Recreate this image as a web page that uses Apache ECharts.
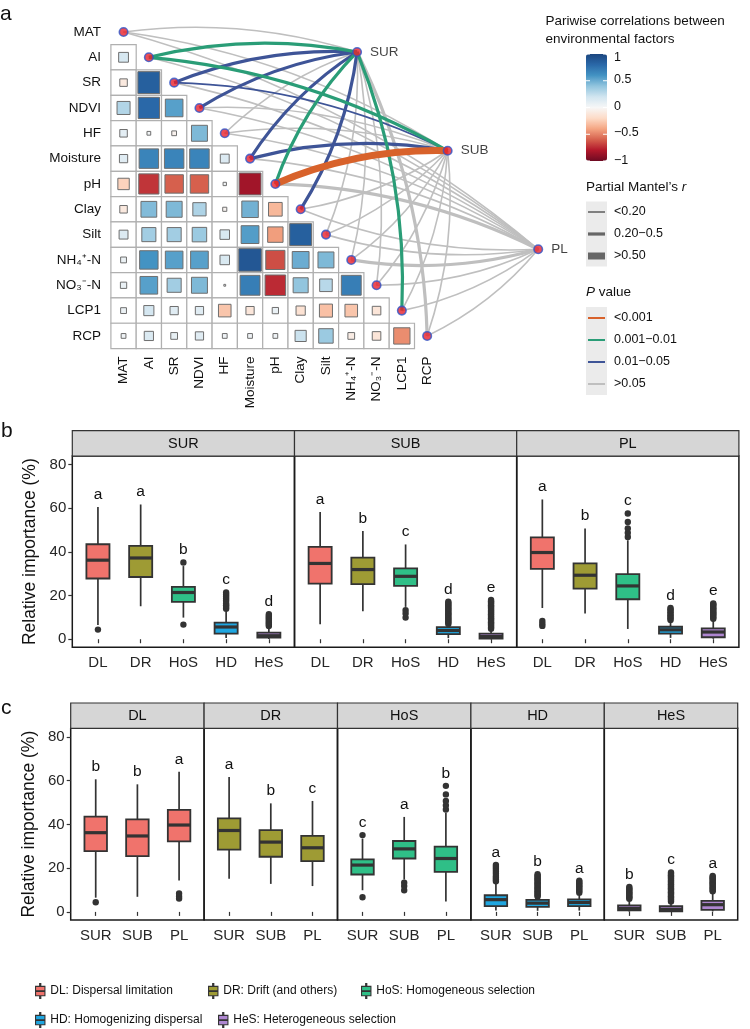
<!DOCTYPE html>
<html><head><meta charset="utf-8">
<script src="https://cdn.jsdelivr.net/npm/echarts@6/dist/echarts.min.js"></script>
<style>html,body{margin:0;padding:0;background:#fff}#c{width:750px;height:1029px}</style>
</head><body><div id="c"></div>
<script>
// ---------------- DATA ----------------
const envFactors = ['MAT','AI','SR','NDVI','HF','Moisture','pH','Clay','Silt','NH₄⁺-N','NO₃⁻-N','LCP1','RCP'];
// lower triangle: row i holds correlation with columns 0..i-1
const corrMAT = [];
const corrAI = [0.17];
const corrSR = [-0.1, 0.85];
const corrNDVI = [0.3, 0.8, 0.55];
const corrHF = [0.1, 0.025, -0.04, 0.45];
const corrMoisture = [0.12, 0.67, 0.67, 0.67, 0.14];
const corrPH = [-0.23, -0.72, -0.6, -0.6, 0.02, -0.85];
const corrClay = [-0.1, 0.44, 0.45, 0.31, -0.03, 0.48, -0.33];
const corrSilt = [0.14, 0.35, 0.35, 0.37, 0.16, 0.56, -0.42, 0.85];
const corrNH4 = [0.06, 0.6, 0.55, 0.55, 0.16, 0.9, -0.65, 0.5, 0.45];
const corrNO3 = [0.07, 0.55, 0.35, 0.45, 0.006, 0.7, -0.75, 0.4, 0.28, 0.7];
const corrLCP1 = [0.06, 0.18, 0.12, 0.12, -0.28, -0.12, 0.07, -0.15, -0.3, -0.28, -0.13];
const corrRCP = [0.04, 0.15, 0.08, 0.12, 0.04, 0.04, 0.04, 0.22, 0.37, -0.08, -0.13, -0.47];

const habitats = ['SUR','SUB','PL'];
const mantelR_SUR = [0.12, 0.32, 0.28, 0.26, 0.12, 0.28, 0.30, 0.26, 0.10, 0.12, 0.10, 0.28, 0.30];
const mantelP_SUR = [0.12, 0.004, 0.02, 0.03, 0.40, 0.02, 0.006, 0.03, 0.30, 0.20, 0.25, 0.008, 0.08];
const mantelR_SUB = [0.10, 0.32, 0.15, 0.10, 0.10, 0.28, 0.60, 0.12, 0.10, 0.12, 0.10, 0.10, 0.15];
const mantelP_SUB = [0.30, 0.003, 0.03, 0.20, 0.40, 0.02, 0.0005, 0.20, 0.30, 0.15, 0.20, 0.30, 0.20];
const mantelR_PL  = [0.10, 0.12, 0.10, 0.10, 0.10, 0.15, 0.22, 0.10, 0.10, 0.30, 0.10, 0.10, 0.12];
const mantelP_PL  = [0.30, 0.20, 0.40, 0.30, 0.50, 0.10, 0.08, 0.30, 0.40, 0.06, 0.30, 0.50, 0.20];

const rBinLabels = ['<0.20','0.20−0.5','>0.50'];
const pBinLabels = ['<0.001','0.001−0.01','0.01−0.05','>0.05'];
const colorbarTicks = [1, 0.5, 0, -0.5, -1];
const colorbarTickLabels = ['1','0.5','0','−0.5','−1'];

const processes = ['DL','DR','HoS','HD','HeS'];
const processNames = ['DL: Dispersal limitation','DR: Drift (and others)','HoS: Homogeneous selection','HD: Homogenizing dispersal','HeS: Heterogeneous selection'];
const sites = ['SUR','SUB','PL'];
// [lower whisker, Q1, median, Q3, upper whisker] per process
const boxSUR = [[6.5,27.8,36.2,43.5,60.6],[15.1,28.5,37.2,42.7,61.7],[9.9,17.1,21.4,24.0,33.5],[0.6,2.6,5.6,7.6,13.3],[0.1,0.7,1.6,3.0,5.6]];
const boxSUB = [[6.9,25.5,34.7,42.3,58.3],[12.8,25.2,31.9,37.4,49.6],[14.8,24.4,28.8,32.4,43.4],[0.5,2.3,4.0,5.5,6.6],[0.0,0.3,1.2,2.6,4.3]];
const boxPL  = [[14.3,32.2,39.7,46.6,64.0],[11.8,23.2,29.3,34.7,50.7],[4.7,18.3,24.4,29.8,45.3],[0.6,2.6,4.3,5.7,8.2],[0.2,0.9,3.3,5.0,8.8]];
const outSUR = [[4.4],[],[6.7,35.1],[14.0,14.8,15.6,16.4,17.6,18.6,19.6,20.5,21.4],[6.0,6.6,7.2,7.8,8.4,9.0,9.6,10.2,10.8,11.4]];
const outSUB = [[],[],[9.9,11.8,13.3],[7.0,7.6,8.2,8.8,9.4,10.0,10.6,11.2,11.8,12.4,13.0,13.6,14.2,14.8,15.4,16.0,16.6,17.2],[4.8,5.4,6.0,6.6,7.2,7.8,8.4,9.0,9.6,10.2,10.8,11.4,12.0,12.6,13.2,13.8,14.4,15.0,15.6,16.2,16.8,17.4,18.0]];
const outPL  = [[6.1,7.1,8.4],[],[46.8,48.7,50.7,53.7,57.6],[8.8,9.5,10.2,10.9,11.6,12.3,13.0,13.7,14.3],[9.4,10.0,10.6,11.2,11.8,12.4,13.0,13.6,14.2,14.8,15.4,16.0,16.4]];
const lettersB_SUR = ['a','a','b','c','d'];
const lettersB_SUB = ['a','b','c','d','e'];
const lettersB_PL  = ['a','b','c','d','e'];
const lettersC_DL  = ['b','b','a'];
const lettersC_DR  = ['a','b','c'];
const lettersC_HoS = ['c','a','b'];
const lettersC_HD  = ['a','b','a'];
const lettersC_HeS = ['b','c','a'];
const yTicks = [0,20,40,60,80];

// ---------------- STYLE / LAYOUT ----------------
const FONT = '"Liberation Sans", Arial, Helvetica, sans-serif';
const TXT = '#111';
const procColors = ['#F0736C','#9E9B34','#2FBF87','#1FA6E0','#AE86D0'];
const rdbu = ['#6d0a22','#b2182b','#d6604d','#f4a582','#fddbc7','#f7f7f7','#d1e5f0','#92c5de','#4393c3','#2a68a8','#1b467f'];
const pColors = ['#D8622B','#2A9D77','#3E5497','#BFBFBF'];
const rWidths = [1.6, 3.2, 7];
const targetPos = [[9.23,0.79],[12.81,4.69],[16.39,8.58]]; // layout of habitat nodes in matrix units
const curv = 0.11;

const corrRows = [corrMAT,corrAI,corrSR,corrNDVI,corrHF,corrMoisture,corrPH,corrClay,corrSilt,corrNH4,corrNO3,corrLCP1,corrRCP];
const mantelR = [mantelR_SUR, mantelR_SUB, mantelR_PL];
const mantelP = [mantelP_SUR, mantelP_SUB, mantelP_PL];
const boxes = [boxSUR, boxSUB, boxPL];
const outs = [outSUR, outSUB, outPL];
const lettersB = [lettersB_SUR, lettersB_SUB, lettersB_PL];
const lettersC = [lettersC_DL, lettersC_DR, lettersC_HoS, lettersC_HD, lettersC_HeS];

function pBin(p){ return p < 0.001 ? 0 : p < 0.01 ? 1 : p < 0.05 ? 2 : 3; }
function rBin(r){ return r < 0.2 ? 0 : r <= 0.5 ? 1 : 2; }

const cellData = [];
corrRows.forEach((row, i) => row.forEach((r, j) => cellData.push([j, i, r])));
const linkData = [];
mantelR.forEach((rs, t) => rs.forEach((r, i) => linkData.push([i, t, r, mantelP[t][i]])));
linkData.sort((a, b) => pBin(b[3]) - pBin(a[3]));

// grids
const gA = {left:110.9, top:19.3, width:455.4, height:329.3};
const bL = 72.3, bW = 222.2, bT = 456, bH = 191.3;
const cL = 70.7, cW = 133.4, cT = 728.3, cH = 191.7;
const yMin = -3.7, yMax = 83.9;

const grids = [gA];
const xAxes = [{gridIndex:0, type:'value', min:-0.5, max:17.5, axisLine:{show:false}, axisTick:{show:false}, splitLine:{show:false},
  axisLabel:{customValues:envFactors.map((_, i) => i), formatter:v => envFactors[v], rotate:90, margin:8, fontSize:13.5, fontFamily:FONT, color:TXT, hideOverlap:false}}];
const yAxes = [{gridIndex:0, type:'value', inverse:true, min:-0.5, max:12.5, axisLine:{show:false}, axisTick:{show:false}, splitLine:{show:false},
  axisLabel:{customValues:envFactors.map((_, i) => i), formatter:v => envFactors[v], margin:10, fontSize:13.5, fontFamily:FONT, color:TXT}}];

function facetAxes(gi, nCat, catNames, first) {
  xAxes.push({gridIndex:gi, type:'value', min:0.4, max:nCat + 0.6, axisLine:{show:false}, splitLine:{show:false},
    axisTick:{show:true, customValues:catNames.map((_, i) => i + 1), length:4, lineStyle:{color:'#333', width:1.2}},
    axisLabel:{customValues:catNames.map((_, i) => i + 1), formatter:v => catNames[v - 1], margin:8, fontSize:15, fontFamily:FONT, color:'#262626'}});
  yAxes.push({gridIndex:gi, type:'value', min:yMin, max:yMax, axisLine:{show:false}, splitLine:{show:false},
    axisTick:{show:first, customValues:yTicks, length:4, lineStyle:{color:'#333', width:1.2}},
    axisLabel:{show:first, customValues:yTicks, margin:6, fontSize:15, fontFamily:FONT, color:'#262626'},
    name: first ? 'Relative importance (%)' : '', nameLocation:'middle', nameGap:33,
    nameTextStyle:{fontSize:17.5, fontFamily:FONT, color:TXT}});
}
const frame = {show:true, borderColor:'#1a1a1a', borderWidth:1.5, backgroundColor:'transparent'};
sites.forEach((s, k) => { grids.push(Object.assign({left:bL + bW*k, top:bT, width:bW, height:bH}, frame)); facetAxes(grids.length-1, 5, processes, k === 0); });
processes.forEach((p, k) => { grids.push(Object.assign({left:cL + cW*k, top:cT, width:cW, height:cH}, frame)); facetAxes(grids.length-1, 3, sites, k === 0); });

function boxSeries(name, color, gi, items) {
  return {
    type:'custom', name, xAxisIndex:gi, yAxisIndex:gi, clip:false, z:3,
    itemStyle:{color, borderColor:'#333', borderWidth:1.2},
    data: items.map(it => [it.x].concat(it.stats)),
    encode:{x:0, y:[1,2,3,4,5]},
    renderItem(params, api) {
      const it = items[params.dataIndex];
      const x = api.value(0);
      const P = v => api.coord([x, v]);
      const bw = api.size([0.54, 0])[0];
      const lo = P(api.value(1)), q1 = P(api.value(2)), md = P(api.value(3)), q3 = P(api.value(4)), hi = P(api.value(5));
      const cx = lo[0];
      const ch = [
        {type:'line', shape:{x1:cx, y1:hi[1], x2:cx, y2:q3[1]}, style:{stroke:'#333', lineWidth:1.7}},
        {type:'line', shape:{x1:cx, y1:q1[1], x2:cx, y2:lo[1]}, style:{stroke:'#333', lineWidth:1.7}},
        {type:'rect', shape:{x:cx - bw/2, y:q3[1], width:bw, height:q1[1] - q3[1]}, style:{fill:api.visual('color'), stroke:'#333', lineWidth:1.8}},
        {type:'line', shape:{x1:cx - bw/2, y1:md[1], x2:cx + bw/2, y2:md[1]}, style:{stroke:'#333', lineWidth:3.2}}
      ];
      it.out.forEach(o => { ch.push({type:'circle', shape:{cx:cx, cy:P(o)[1], r:3.2}, style:{fill:'#333'}}); });
      const top = Math.max(api.value(5), ...it.out);
      ch.push({type:'text', x:cx, y:P(top + 2)[1], style:{text:it.letter, align:'center', verticalAlign:'bottom', fontSize:15.5, fontFamily:FONT, fill:TXT}});
      return {type:'group', children:ch};
    }
  };
}

const series = [];
// correlation cells
series.push({
  type:'custom', xAxisIndex:0, yAxisIndex:0, z:1, data:cellData, encode:{x:0, y:1},
  renderItem(params, api) {
    const c = api.coord([api.value(0), api.value(1)]);
    const s = api.size([1, 1]);
    const r = api.value(2);
    const side = Math.sqrt(Math.abs(r)) * s[0] * 0.94;
    return {type:'group', children:[
      {type:'rect', shape:{x:c[0] - s[0]/2, y:c[1] - s[1]/2, width:s[0], height:s[1]}, style:{fill:'#fff', stroke:'#b0b0b0', lineWidth:1.2}},
      {type:'rect', shape:{x:c[0] - side/2, y:c[1] - side/2, width:side, height:side}, style:{fill:api.visual('color'), stroke:'#6e6e6e', lineWidth:1}}
    ]};
  }
});
// mantel links
series.push({
  type:'custom', xAxisIndex:0, yAxisIndex:0, z:2, clip:false, data:linkData, encode:{x:0, y:1},
  renderItem(params, api) {
    const i = api.value(0), t = api.value(1), r = api.value(2), p = api.value(3);
    const a = api.coord([i, i]);
    const b = api.coord(targetPos[t]);
    const dx = b[0] - a[0], dy = b[1] - a[1];
    const sg = i <= 6 ? 1 : -1;
    const cpx = (a[0] + b[0]) / 2 + sg * curv * dy;
    const cpy = (a[1] + b[1]) / 2 - sg * curv * dx;
    return {type:'bezierCurve', shape:{x1:a[0], y1:a[1], x2:b[0], y2:b[1], cpx1:cpx, cpy1:cpy},
      style:{stroke:pColors[pBin(p)], lineWidth:rWidths[rBin(r)], fill:null, lineCap:'butt'}};
  }
});
// nodes
const nodeStyle = {color:'#E8202A', borderColor:'#2F55C8', borderWidth:1.6};
series.push({type:'scatter', xAxisIndex:0, yAxisIndex:0, z:4, symbolSize:8.5, itemStyle:nodeStyle,
  data: envFactors.map((_, i) => [i, i]), silent:true});
series.push({type:'scatter', xAxisIndex:0, yAxisIndex:0, z:4, symbolSize:8.5, itemStyle:nodeStyle, silent:true,
  data: habitats.map((h, t) => ({name:h, value:targetPos[t]})),
  label:{show:true, position:'right', distance:8, formatter:p => p.name, fontSize:13.5, fontFamily:FONT, color:TXT}});
// panel b
sites.forEach((s, k) => processes.forEach((p, j) => {
  series.push(boxSeries(processNames[j], procColors[j], 1 + k, [{x:j + 1, stats:boxes[k][j], out:outs[k][j], letter:lettersB[k][j]}]));
}));
// panel c
processes.forEach((p, j) => {
  series.push(boxSeries(processNames[j], procColors[j], 4 + j, sites.map((s, k) => ({x:k + 1, stats:boxes[k][j], out:outs[k][j], letter:lettersC[j][k]}))));
});

// legends (bottom)
const boxIcon = 'path://M4.4,0L5.6,0L5.6,3L4.4,3Z M0,3L10,3L10,13L0,13Z M0.8,7.6L9.2,7.6L9.2,8.4L0.8,8.4Z M4.4,13L5.6,13L5.6,16L4.4,16Z';
const legendPos = [[35,983],[208,983],[361,983],[35,1012],[218,1012]];
const legends = processNames.map((n, j) => ({
  data:[n], left:legendPos[j][0], top:legendPos[j][1], padding:0, itemWidth:10, itemHeight:15, icon:boxIcon,
  itemStyle:{borderColor:'#333', borderWidth:1.1}, selectedMode:false,
  textStyle:{fontFamily:FONT, fontSize:12, color:TXT}
}));

// graphics: strips, panel letters, right legends
const graphic = [];
function strip(x, y, w, label) {
  graphic.push({type:'rect', shape:{x:x, y:y, width:w, height:25.3}, style:{fill:'#D6D6D6', stroke:'#333', lineWidth:1.2}, z:10});
  graphic.push({type:'text', x:x + w/2, y:y + 12.8, style:{text:label, align:'center', verticalAlign:'middle', fontSize:14.5, fontFamily:FONT, fill:TXT}, z:11});
}
sites.forEach((s, k) => strip(bL + bW*k, bT - 25.3, bW, s));
processes.forEach((p, k) => strip(cL + cW*k, cT - 25.3, cW, p));
[['a',0,4],['b',1,421],['c',1,698]].forEach(([t, x, y]) => graphic.push({type:'text', left:x, top:y, style:{text:t, fontSize:21, fontFamily:FONT, fill:TXT}}));

graphic.push({type:'text', left:545.5, top:13, style:{text:'Pariwise correlations between\nenvironmental factors', fontSize:13.5, lineHeight:17.4, fontFamily:FONT, fill:TXT}});
const cbTop = 54, cbH = 107;
colorbarTicks.forEach((v, k) => {
  const y = cbTop + (1 - v) / 2 * cbH;
  graphic.push({type:'line', shape:{x1:586, y1:y, x2:590, y2:y}, style:{stroke:'#fff', lineWidth:1}, z:20});
  graphic.push({type:'line', shape:{x1:603, y1:y, x2:607, y2:y}, style:{stroke:'#fff', lineWidth:1}, z:20});
  graphic.push({type:'text', x:614, y:[58,80,107,133,161][k], style:{text:colorbarTickLabels[k], verticalAlign:'middle', fontSize:12.5, fontFamily:FONT, fill:TXT}});
});
graphic.push({type:'text', left:586, top:180, style:{text:'{n|Partial Mantel’s }{i|r}', rich:{n:{fontSize:13.5, fontFamily:FONT, fill:TXT}, i:{fontSize:13.5, fontFamily:FONT, fontStyle:'italic', fill:TXT}}}});
graphic.push({type:'rect', shape:{x:586, y:201.5, width:21, height:65}, style:{fill:'#EBEBEB'}});
rBinLabels.forEach((t, k) => {
  const y = 212 + 22 * k;
  graphic.push({type:'line', shape:{x1:588, y1:y, x2:605, y2:y}, style:{stroke:'#666', lineWidth:rWidths[k]}});
  graphic.push({type:'text', x:614, y:y, style:{text:t, verticalAlign:'middle', fontSize:12.5, fontFamily:FONT, fill:TXT}});
});
graphic.push({type:'text', left:586, top:285, style:{text:'{i|P}{n| value}', rich:{n:{fontSize:13.5, fontFamily:FONT, fill:TXT}, i:{fontSize:13.5, fontFamily:FONT, fontStyle:'italic', fill:TXT}}}});
graphic.push({type:'rect', shape:{x:586, y:307, width:21, height:88}, style:{fill:'#EBEBEB'}});
pBinLabels.forEach((t, k) => {
  const y = 318 + 22 * k;
  graphic.push({type:'line', shape:{x1:588, y1:y, x2:605, y2:y}, style:{stroke:pColors[k], lineWidth:2}});
  graphic.push({type:'text', x:614, y:y, style:{text:t, verticalAlign:'middle', fontSize:12.5, fontFamily:FONT, fill:TXT}});
});

const chart = echarts.init(document.getElementById('c'), null, {renderer:'canvas', width:750, height:1029});
chart.setOption({
  backgroundColor:'#fff',
  animation:false,
  textStyle:{fontFamily:FONT},
  grid:grids, xAxis:xAxes, yAxis:yAxes,
  visualMap:[{type:'continuous', min:-1, max:1, seriesIndex:0, dimension:2, calculable:false, padding:0,
    left:586, top:cbTop, itemWidth:21, itemHeight:cbH, inRange:{color:rdbu}, text:null, hoverLink:false}],
  legend:legends,
  series:series,
  graphic:graphic
});
</script></body></html>
